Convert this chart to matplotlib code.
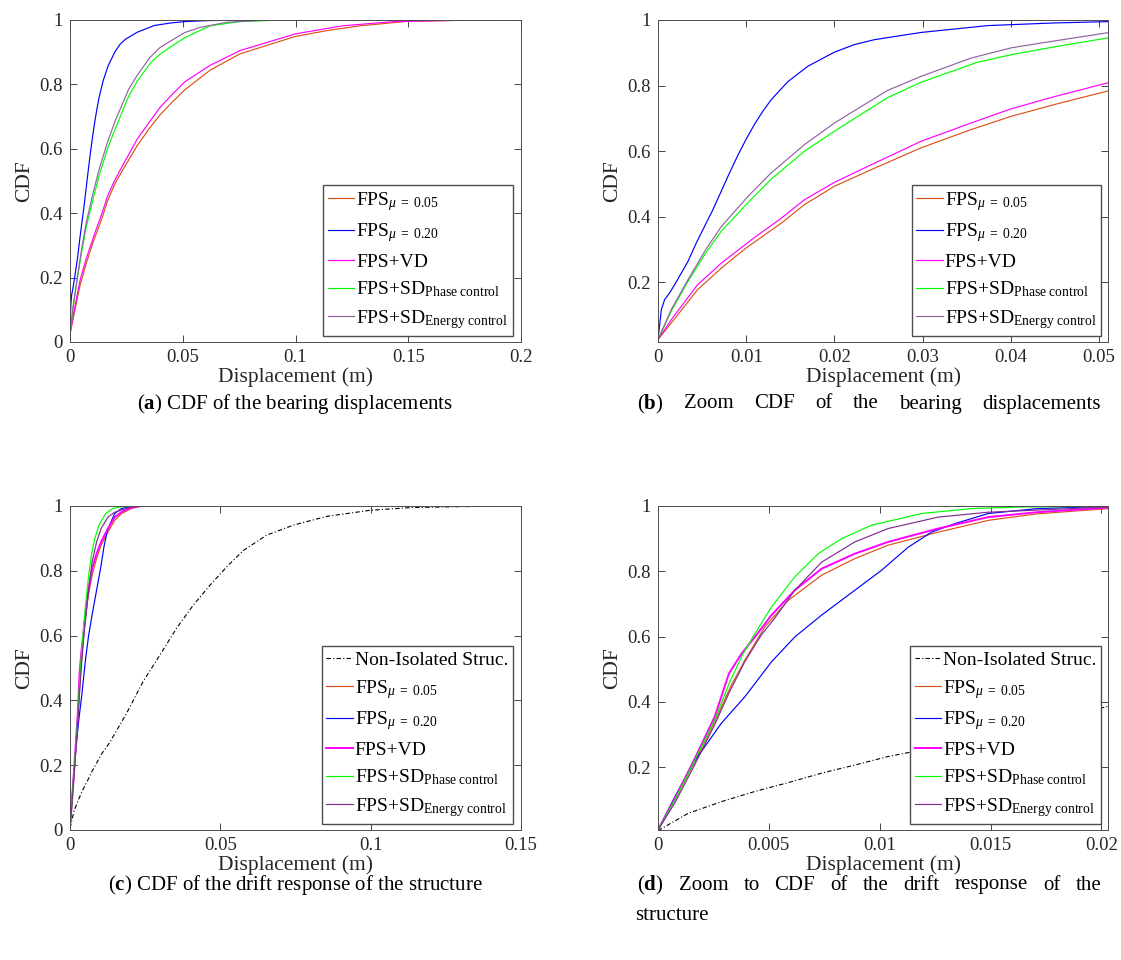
"""Empirical CDFs of bearing displacement and structural drift (four panels)."""

import matplotlib

matplotlib.use("Agg")
import matplotlib.pyplot as plt

plt.rcParams["font.family"] = ["Liberation Serif", "DejaVu Serif"]
plt.rcParams["mathtext.fontset"] = "custom"
plt.rcParams["mathtext.rm"] = "Liberation Serif"
plt.rcParams["mathtext.it"] = "Liberation Serif:italic"
plt.rcParams["mathtext.bf"] = "Liberation Serif:bold"

# ---- bearing displacements (panels a, b) ----
BEAR_FPS05_X = [0, 0.0015, 0.0045, 0.0072, 0.0100, 0.0140, 0.0166, 0.0200, 0.0242, 0.0298,
                0.0355, 0.0400, 0.0449, 0.0509, 0.0621, 0.0754, 0.1000, 0.1139, 0.1287,
                0.1500, 0.1730, 0.1860]
BEAR_FPS05_Y = [0.025, 0.076, 0.178, 0.244, 0.305, 0.381, 0.437, 0.493, 0.544, 0.610,
                0.666, 0.706, 0.742, 0.783, 0.844, 0.895, 0.949, 0.967, 0.982,
                0.996, 0.999, 1.0]

BEAR_FPS20_X = [0, 0.00038, 0.00075, 0.00132, 0.00189, 0.00264, 0.0034, 0.00434, 0.00528,
                0.00623, 0.00717, 0.00811, 0.00906, 0.0100, 0.01094, 0.01189, 0.01283,
                0.01472, 0.01698, 0.0200, 0.02226, 0.02453, 0.0298, 0.0374, 0.0449,
                0.0509, 0.060, 0.070, 0.085]
BEAR_FPS20_Y = [0.025, 0.117, 0.147, 0.168, 0.193, 0.228, 0.264, 0.320, 0.371,
                0.422, 0.478, 0.534, 0.588, 0.637, 0.682, 0.722, 0.757,
                0.812, 0.859, 0.902, 0.925, 0.940, 0.962, 0.983, 0.991,
                0.995, 0.998, 0.999, 1.0]

BEAR_VD_X = [0, 0.0015, 0.0045, 0.0072, 0.0106, 0.0140, 0.0166, 0.0200, 0.0242, 0.0298,
             0.0355, 0.0400, 0.0449, 0.0509, 0.0621, 0.0754, 0.1000, 0.1210, 0.1435, 0.1800]
BEAR_VD_Y = [0.025, 0.086, 0.193, 0.259, 0.330, 0.396, 0.452, 0.505, 0.559, 0.630,
             0.686, 0.729, 0.766, 0.808, 0.859, 0.905, 0.957, 0.982, 0.995, 1.0]

BEAR_PHASE_X = [0, 0.0015, 0.0034, 0.0053, 0.0072, 0.0102, 0.0128, 0.0166, 0.0200, 0.0260,
                0.0298, 0.0362, 0.0400, 0.0449, 0.0509, 0.0621, 0.0754, 0.0900, 0.1140]
BEAR_PHASE_Y = [0.025, 0.112, 0.203, 0.285, 0.357, 0.443, 0.514, 0.600, 0.661, 0.763,
                0.810, 0.871, 0.894, 0.918, 0.945, 0.982, 0.995, 0.999, 1.0]

BEAR_ENERGY_X = [0, 0.0015, 0.0034, 0.0053, 0.0072, 0.0102, 0.0128, 0.0166, 0.0200, 0.0260,
                 0.0298, 0.0355, 0.0400, 0.0449, 0.0509, 0.0577, 0.0695, 0.0850, 0.1060]
BEAR_ENERGY_Y = [0.025, 0.117, 0.208, 0.295, 0.371, 0.462, 0.533, 0.620, 0.686, 0.785,
                 0.828, 0.884, 0.915, 0.936, 0.961, 0.977, 0.993, 0.999, 1.0]

# ---- structural drift (panels c, d) ----
DRIFT_NONISO_X = [0, 0.00136, 0.00287, 0.00437, 0.00587, 0.00738, 0.00888, 0.01038, 0.0132,
                  0.0188, 0.0243, 0.0299, 0.0354, 0.0410, 0.0466, 0.0521, 0.0577, 0.0654,
                  0.0743, 0.0854, 0.1000, 0.1132, 0.1299, 0.1400]
DRIFT_NONISO_Y = [0.006, 0.059, 0.095, 0.126, 0.153, 0.182, 0.207, 0.233, 0.270,
                  0.360, 0.458, 0.540, 0.622, 0.694, 0.756, 0.812, 0.863, 0.910,
                  0.941, 0.968, 0.987, 0.995, 0.998, 0.999]

DRIFT_FPS05_X = [0, 0.00076, 0.00166, 0.00256, 0.00331, 0.00392, 0.00482, 0.00587, 0.00738,
                 0.00888, 0.01038, 0.01264, 0.0149, 0.0171, 0.0203, 0.0230, 0.0260]
DRIFT_FPS05_Y = [0.008, 0.100, 0.217, 0.340, 0.452, 0.528, 0.630, 0.711, 0.788,
                 0.839, 0.880, 0.920, 0.956, 0.976, 0.992, 0.998, 1.0]

DRIFT_FPS20_X = [0, 0.00076, 0.00166, 0.00286, 0.00392, 0.00512, 0.00617, 0.00738, 0.00888,
                 0.01008, 0.01129, 0.01234, 0.01339, 0.0149, 0.0171, 0.0203, 0.0220]
DRIFT_FPS20_Y = [0.008, 0.110, 0.220, 0.335, 0.416, 0.523, 0.599, 0.666, 0.742,
                 0.803, 0.874, 0.920, 0.946, 0.977, 0.992, 0.999, 1.0]

DRIFT_VD_X = [0, 0.00076, 0.00166, 0.00256, 0.00320, 0.00377, 0.00437, 0.00512, 0.00617,
              0.00738, 0.00888, 0.01038, 0.01264, 0.0149, 0.0171, 0.0203, 0.0235]
DRIFT_VD_Y = [0.008, 0.105, 0.227, 0.355, 0.487, 0.548, 0.599, 0.666, 0.742,
              0.808, 0.854, 0.890, 0.931, 0.966, 0.981, 0.995, 1.0]

DRIFT_PHASE_X = [0, 0.00076, 0.00166, 0.00256, 0.00324, 0.00384, 0.00437, 0.00512, 0.00617,
                 0.00723, 0.00828, 0.00963, 0.01189, 0.01414, 0.0164, 0.0203, 0.0220]
DRIFT_PHASE_Y = [0.008, 0.100, 0.222, 0.345, 0.462, 0.548, 0.609, 0.691, 0.783,
                 0.854, 0.900, 0.941, 0.977, 0.992, 0.997, 0.999, 1.0]

DRIFT_ENERGY_X = [0, 0.00076, 0.00166, 0.00256, 0.00324, 0.00392, 0.00467, 0.00527, 0.00617,
                  0.00738, 0.00888, 0.01038, 0.01264, 0.0149, 0.0203, 0.0225]
DRIFT_ENERGY_Y = [0.008, 0.091, 0.208, 0.331, 0.433, 0.524, 0.606, 0.657, 0.742,
                  0.828, 0.890, 0.931, 0.966, 0.981, 0.997, 1.0]

LABELS = [
    r"FPS$_{\mu\ =\ 0.05}$",
    r"FPS$_{\mu\ =\ 0.20}$",
    "FPS+VD",
    r"FPS+SD$_{\mathrm{Phase\ control}}$",
    r"FPS+SD$_{\mathrm{Energy\ control}}$",
]
NONISO_LABEL = "Non-Isolated Struc."

CAPTION_A = r"($\mathbf{a}$) CDF of the bearing displacements"
CAPTION_B = r"($\mathbf{b}$) Zoom CDF of the bearing displacements"
CAPTION_C = r"($\mathbf{c}$) CDF of the drift response of the structure"
CAPTION_D1 = r"($\mathbf{d}$) Zoom to CDF of the drift response of the"
CAPTION_D2 = "structure"

ORANGE = "#D95319"
BLUE = "#0000FF"
MAGENTA = "#FF00FF"
GREEN = "#00FF00"
PURPLE_LIGHT = "#9162A2"
PURPLE = "#7E2F8E"
TEXT = "#262626"

W, H = 1121, 960


def frac(left, top, right, bottom):
    return [left / W, 1 - bottom / H, (right - left) / W, (bottom - top) / H]


def style(ax, xlim, ylim, xticks, xticklabels, yticks, yticklabels):
    ax.set_xlim(*xlim)
    ax.set_ylim(*ylim)
    ax.set_xticks(xticks)
    ax.set_xticklabels(xticklabels)
    ax.set_yticks(yticks)
    ax.set_yticklabels(yticklabels)
    ax.tick_params(direction="in", top=True, right=True, length=5, width=0.6,
                   labelsize=13.5, colors=TEXT, pad=5)
    for s in ax.spines.values():
        s.set_linewidth(0.7)
        s.set_color("#4d4d4d")
    ax.set_xlabel("Displacement (m)", fontsize=15.5, color=TEXT, labelpad=1)
    ax.set_ylabel("CDF", fontsize=15.5, color=TEXT, labelpad=4)


def legend(ax, anchor):
    ax.legend(loc="lower right", bbox_to_anchor=anchor, fontsize=14, handlelength=1.35,
              handletextpad=0.1, labelspacing=0.45, borderpad=0.25, borderaxespad=0,
              fancybox=False, framealpha=1, edgecolor="#4d4d4d")


def justified(fig, text, x0, x1, y, **kw):
    # spread the words of one caption line over [x0, x1] like a justified paragraph
    renderer = fig.canvas.get_renderer()
    words = text.split(" ")
    items = [fig.text(0, 1 - y / H, w, ha="left", va="center", **kw) for w in words]
    widths = [t.get_window_extent(renderer).width for t in items]
    gap = (x1 - x0 - sum(widths)) / (len(words) - 1)
    x = x0
    for t, w in zip(items, widths):
        t.set_x(x / W)
        x += w + gap


fig = plt.figure(figsize=(W / 100, H / 100), dpi=100)

bearing = [
    (BEAR_FPS05_X, BEAR_FPS05_Y, ORANGE, 0.85),
    (BEAR_FPS20_X, BEAR_FPS20_Y, BLUE, 0.85),
    (BEAR_VD_X, BEAR_VD_Y, MAGENTA, 0.85),
    (BEAR_PHASE_X, BEAR_PHASE_Y, GREEN, 0.85),
    (BEAR_ENERGY_X, BEAR_ENERGY_Y, PURPLE_LIGHT, 0.85),
]
drift = [
    (DRIFT_FPS05_X, DRIFT_FPS05_Y, ORANGE, 0.85),
    (DRIFT_FPS20_X, DRIFT_FPS20_Y, BLUE, 0.85),
    (DRIFT_VD_X, DRIFT_VD_Y, MAGENTA, 1.4),
    (DRIFT_PHASE_X, DRIFT_PHASE_Y, GREEN, 0.85),
    (DRIFT_ENERGY_X, DRIFT_ENERGY_Y, PURPLE, 0.85),
]

# (a) bearing displacements
ax_a = fig.add_axes(frac(70, 20, 521, 342))
for (x, y, c, lw), lab in zip(bearing, LABELS):
    ax_a.plot(x, y, color=c, lw=lw, label=lab)
style(ax_a, (0, 0.2), (0, 1), [0, 0.05, 0.1, 0.15, 0.2], ["0", "0.05", "0.1", "0.15", "0.2"],
      [0, 0.2, 0.4, 0.6, 0.8, 1], ["0", "0.2", "0.4", "0.6", "0.8", "1"])
legend(ax_a, (0.982, 0.02))

# (b) zoom of bearing displacements
ax_b = fig.add_axes(frac(658, 20, 1108, 342))
for (x, y, c, lw), lab in zip(bearing, LABELS):
    ax_b.plot(x, y, color=c, lw=lw, label=lab)
style(ax_b, (0, 0.051), (0.018, 1.0), [0, 0.01, 0.02, 0.03, 0.04, 0.05],
      ["0", "0.01", "0.02", "0.03", "0.04", "0.05"],
      [0.2, 0.4, 0.6, 0.8, 1], ["0.2", "0.4", "0.6", "0.8", "1"])
legend(ax_b, (0.985, 0.02))

# (c) drift response
ax_c = fig.add_axes(frac(70, 506, 521, 830))
ax_c.plot(DRIFT_NONISO_X, DRIFT_NONISO_Y, color="black", lw=0.8, dashes=[4, 2, 1, 2],
          label=NONISO_LABEL)
for (x, y, c, lw), lab in zip(drift, LABELS):
    ax_c.plot(x, y, color=c, lw=lw, label=lab)
style(ax_c, (0, 0.15), (0, 1), [0, 0.05, 0.1, 0.15], ["0", "0.05", "0.1", "0.15"],
      [0, 0.2, 0.4, 0.6, 0.8, 1], ["0", "0.2", "0.4", "0.6", "0.8", "1"])
legend(ax_c, (0.982, 0.02))

# (d) zoom of drift response
ax_d = fig.add_axes(frac(658, 506, 1108, 830))
ax_d.plot(DRIFT_NONISO_X, DRIFT_NONISO_Y, color="black", lw=0.8, dashes=[4, 2, 1, 2],
          label=NONISO_LABEL)
for (x, y, c, lw), lab in zip(drift, LABELS):
    ax_d.plot(x, y, color=c, lw=lw, label=lab)
style(ax_d, (0, 0.0203), (0.008, 1.0), [0, 0.005, 0.01, 0.015, 0.02],
      ["0", "0.005", "0.01", "0.015", "0.02"],
      [0.2, 0.4, 0.6, 0.8, 1], ["0.2", "0.4", "0.6", "0.8", "1"])
legend(ax_d, (0.985, 0.02))

# captions
cap_kw = dict(fontsize=15, color="black")
fig.text(295 / W, 1 - 404 / H, CAPTION_A, ha="center", va="center", **cap_kw)
justified(fig, CAPTION_B, 637, 1101, 404, **cap_kw)
fig.text(295 / W, 1 - 885 / H, CAPTION_C, ha="center", va="center", **cap_kw)
justified(fig, CAPTION_D1, 637, 1101, 885, **cap_kw)
fig.text(635 / W, 1 - 916 / H, CAPTION_D2, ha="left", va="center", **cap_kw)

fig.savefig("out.png", dpi=100)
